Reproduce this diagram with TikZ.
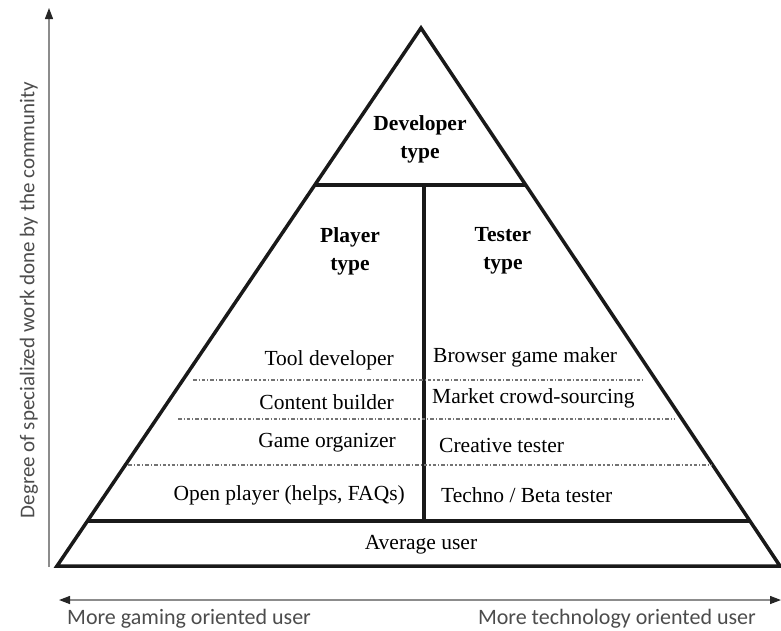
\documentclass[tikz,border=0pt]{standalone}
\usepackage{fontspec}
\setmainfont{Liberation Serif}
\newfontfamily\labsans{Carlito}
\usetikzlibrary{calc,arrows.meta}
\begin{document}
\begin{tikzpicture}[x=1pt,y=-1pt,
  thick line/.style={line width=3.5pt,draw=black!90},
  sep line/.style={line width=1.2pt,draw=black!55,dash pattern=on 3.5pt off 2pt on 1.2pt off 2pt},
  axis/.style={line width=1.3pt,draw=black!45},
  tipa/.style={-{Triangle[length=11pt,width=8pt,color=black!85]}},
  tipb/.style={{Triangle[length=11pt,width=8pt,color=black!85]}-{Triangle[length=11pt,width=8pt,color=black!85]}},
  ser/.style={font=\fontsize{21.5}{28}\selectfont,inner sep=0pt},
  hdr/.style={font=\fontsize{21.5}{28}\selectfont\bfseries,align=center,inner sep=0pt},
  sns/.style={font=\labsans\fontsize{21}{26}\selectfont,text=black!70,inner sep=0pt},
  snsb/.style={font=\labsans\fontsize{22}{26}\selectfont,text=black!70,inner sep=0pt}]
\useasboundingbox (0,0) rectangle (781,630);
% pyramid corners
\coordinate (A) at (421,28);
\coordinate (BL) at (57,566);
\coordinate (BR) at (780,566);
\draw[thick line,line join=miter] (A) -- (BR) -- (BL) -- cycle;
% horizontal dividers
\draw[thick line] ($(A)!0.2918!(BL)$) -- ($(A)!0.2918!(BR)$);
\draw[thick line] ($(A)!0.9164!(BL)$) -- ($(A)!0.9164!(BR)$);
\draw[thick line] (424,185) -- (424,521);
% dotted separators
\draw[sep line] (193,380) -- (645,380);
\draw[sep line] (178,419) -- (675,419);
\draw[sep line] (128,465) -- (711,465);
% headers
\node[hdr] (dev) at (420,139) {Developer\\type};
\node[hdr] (ply) at (350,251) {Player\\type};
\node[hdr] (tst) at (503,251) {Tester\\type};
% left column
\node[ser,anchor=east] (t1) at (394,360) {Tool developer};
\node[ser,anchor=east] (t2) at (394,402) {Content builder};
\node[ser,anchor=east] (t3) at (396,443) {Game organizer};
\node[ser,anchor=east] (t4) at (405,495) {Open player (helps, FAQs)};
% right column
\node[ser,anchor=west] (r1) at (433,357) {Browser game maker};
\node[ser,anchor=west] (r2) at (432,398) {Market crowd-sourcing};
\node[ser,anchor=west] (r3) at (439,445) {Creative tester};
\node[ser,anchor=west] (r4) at (441,495) {Techno / Beta tester};
\node[ser] (avg) at (421,545) {Average user};
% axes
\coordinate (yb) at (49,567);
\coordinate (yt) at (49,8);
\draw[axis,tipa] (yb) -- (yt);
\coordinate (xl) at (59,600);
\coordinate (xr) at (781,600);
\draw[axis,tipb] (xl) -- (xr);
\node[sns,rotate=90] (ylab) at (29,300) {Degree of specialized work done by the community};
\node[snsb,anchor=west] (xl1) at (67,619) {More gaming oriented user};
\node[snsb,anchor=east] (xl2) at (756,619) {More technology oriented user};
\end{tikzpicture}
\end{document}
